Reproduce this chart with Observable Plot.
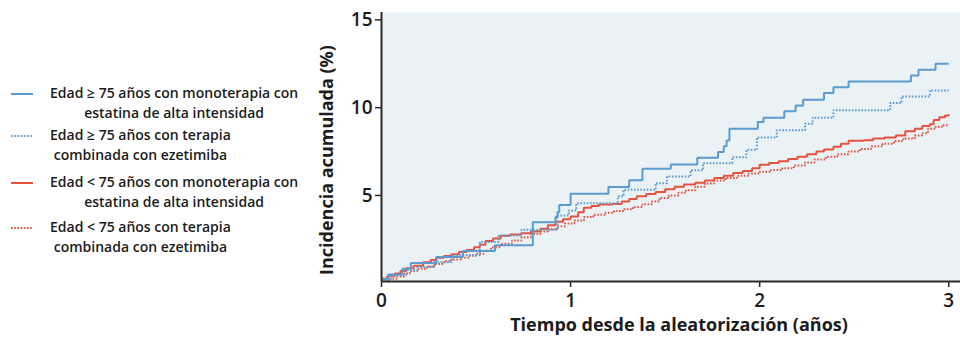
<!DOCTYPE html>
<html><head><meta charset="utf-8">
<script src="https://cdn.jsdelivr.net/npm/d3@7"></script>
<script src="https://cdn.jsdelivr.net/npm/@observablehq/plot@0.6"></script>
<style>
body{margin:0;background:#fff;font-family:'Open Sans',sans-serif;}
#wrap{position:relative;width:960px;height:338px;overflow:hidden;}
#chart{position:absolute;left:0;top:0;}
.leg{position:absolute;left:50px;text-align:center;font-size:14px;font-weight:600;line-height:20px;color:#1c1c1c;white-space:nowrap;}
.sw{position:absolute;left:11px;width:22px;height:6px;}
</style></head><body>
<div id="wrap"><div id="chart"></div><div id="legend"></div></div>
<script>
// ---- data ----
const seriesNames = [
  "Edad ≥ 75 años con monoterapia con estatina de alta intensidad",
  "Edad ≥ 75 años con terapia combinada con ezetimiba",
  "Edad < 75 años con monoterapia con estatina de alta intensidad",
  "Edad < 75 años con terapia combinada con ezetimiba"
];
const legendLines = [
  ["Edad ≥ 75 años con monoterapia con", "estatina de alta intensidad"],
  ["Edad ≥ 75 años con terapia", "combinada con ezetimiba"],
  ["Edad < 75 años con monoterapia con", "estatina de alta intensidad"],
  ["Edad < 75 años con terapia", "combinada con ezetimiba"]
];
// [years, cumulative incidence %]
const oldMono = [[0,0.26],[0.035,0.5],[0.11,0.83],[0.155,1.15],[0.29,1.5],[0.43,1.83],[0.60,2.16],[0.80,3.48],[0.92,3.77],[0.93,4.05],[0.94,4.45],[1.0,5.1],[1.20,5.48],[1.31,5.86],[1.38,6.52],[1.53,6.77],[1.67,7.15],[1.78,7.47],[1.81,7.8],[1.825,8.13],[1.84,8.8],[1.99,9.18],[2.02,9.43],[2.13,9.8],[2.19,10.12],[2.23,10.45],[2.34,10.83],[2.39,11.17],[2.47,11.49],[2.80,11.83],[2.84,12.16],[2.93,12.5],[3.0,12.5]];
const oldCombo = [[0,0.2],[0.05,0.45],[0.13,0.75],[0.19,0.92],[0.28,1.2],[0.37,1.59],[0.52,2.35],[0.62,2.72],[0.74,3.05],[0.93,3.86],[0.99,4.15],[1.03,4.55],[1.25,4.95],[1.28,5.32],[1.45,5.7],[1.51,6.08],[1.635,6.43],[1.70,6.84],[1.855,7.18],[1.93,7.6],[1.985,8.3],[2.09,8.72],[2.24,9.08],[2.28,9.43],[2.39,9.86],[2.69,10.26],[2.75,10.64],[2.90,10.98],[3.0,10.98]];
const youngMono = [[0,0.26],[0.03,0.4],[0.07,0.55],[0.10,0.7],[0.13,0.85],[0.17,1.0],[0.22,1.2],[0.26,1.32],[0.29,1.45],[0.33,1.55],[0.37,1.65],[0.41,1.78],[0.45,1.9],[0.49,2.05],[0.52,2.2],[0.55,2.4],[0.59,2.55],[0.63,2.7],[0.68,2.78],[0.74,2.85],[0.79,2.95],[0.84,3.1],[0.88,3.3],[0.92,3.5],[0.96,3.65],[1.0,3.8],[1.04,4.05],[1.07,4.3],[1.11,4.4],[1.15,4.48],[1.22,4.52],[1.27,4.65],[1.31,4.8],[1.35,4.95],[1.40,5.08],[1.45,5.2],[1.50,5.35],[1.55,5.5],[1.60,5.62],[1.66,5.72],[1.71,5.85],[1.76,6.0],[1.81,6.12],[1.86,6.28],[1.91,6.4],[1.96,6.55],[2.0,6.75],[2.05,6.85],[2.10,6.95],[2.15,7.08],[2.20,7.2],[2.25,7.35],[2.30,7.5],[2.34,7.62],[2.39,7.78],[2.43,7.95],[2.47,8.12],[2.55,8.15],[2.60,8.25],[2.66,8.3],[2.72,8.42],[2.77,8.65],[2.82,8.8],[2.86,8.95],[2.90,9.05],[2.92,9.3],[2.95,9.45],[2.98,9.55],[3.0,9.62]];
const youngCombo = [[0,0.15],[0.04,0.25],[0.08,0.38],[0.12,0.55],[0.15,0.7],[0.19,0.82],[0.24,0.96],[0.28,1.1],[0.33,1.25],[0.37,1.35],[0.42,1.45],[0.46,1.56],[0.50,1.68],[0.54,1.85],[0.58,2.05],[0.63,2.25],[0.69,2.44],[0.74,2.62],[0.79,2.8],[0.84,2.95],[0.88,3.08],[0.93,3.25],[0.97,3.4],[1.02,3.58],[1.07,3.77],[1.12,3.9],[1.18,4.02],[1.23,4.12],[1.28,4.22],[1.33,4.35],[1.38,4.5],[1.43,4.65],[1.47,4.85],[1.52,5.0],[1.57,5.15],[1.61,5.3],[1.66,5.5],[1.71,5.68],[1.76,5.85],[1.82,6.0],[1.88,6.12],[1.94,6.25],[2.0,6.35],[2.06,6.45],[2.12,6.55],[2.18,6.7],[2.24,6.88],[2.29,7.05],[2.35,7.2],[2.41,7.35],[2.47,7.5],[2.53,7.65],[2.59,7.8],[2.65,7.95],[2.71,8.1],[2.76,8.25],[2.82,8.42],[2.86,8.55],[2.89,8.8],[2.93,8.92],[2.97,9.0],[3.0,9.04]];
const xTicks = [0, 1, 2, 3];
const yTicks = [5, 10, 15];
const xLabel = "Tiempo desde la aleatorización (años)";
const yLabel = "Incidencia acumulada (%)";

// ---- styles ----
const BLUE = "#5b9bd0", RED = "#e5533f";
const styles = [
  {color: BLUE, dash: null},
  {color: BLUE, dash: "1.6,1.6"},
  {color: RED, dash: null},
  {color: RED, dash: "1.6,1.6"}
];
const allSeries = [oldMono, oldCombo, youngMono, youngCombo];
const yDomain = [0.1, 15.42];

const lineMarks = allSeries.map((s, i) =>
  Plot.line(s.map(([t, v]) => ({t, v, g: seriesNames[i]})), {
    x: "t", y: "v", curve: "step-after",
    stroke: styles[i].color, strokeWidth: 2,
    strokeDasharray: styles[i].dash || undefined,
    strokeLinejoin: "miter", strokeLinecap: "butt"
  })
);

const chart = Plot.plot({
  width: 960, height: 338,
  marginLeft: 381, marginRight: 0, marginTop: 12, marginBottom: 57,
  style: {fontFamily: "'Open Sans', sans-serif", fontSize: "19px", color: "#222", background: "transparent", overflow: "visible"},
  x: {domain: [0, 3.062]},
  y: {domain: yDomain},
  marks: [
    Plot.frame({fill: "#eaf2f6", stroke: "none"}),
    ...[lineMarks[3], lineMarks[2], lineMarks[1], lineMarks[0]],
    Plot.ruleX([0], {stroke: "#2a2a2a", strokeWidth: 2}),
    Plot.ruleY([yDomain[0]], {stroke: "#2a2a2a", strokeWidth: 2}),
    Plot.axisX({ticks: xTicks, tickSize: 6, tickPadding: 6, tickFormat: d => String(d), label: null, fontSize: 19, fontWeight: 600, fill: "#1c1c1c", stroke: "#2a2a2a", strokeWidth: 1.5}),
    Plot.axisY({ticks: yTicks, tickSize: 6, tickPadding: 3, label: null, fontSize: 19, fontWeight: 600, fill: "#1c1c1c", stroke: "#2a2a2a", strokeWidth: 1.5}),
    Plot.text([xLabel], {text: d => d, frameAnchor: "bottom", dx: 8, dy: 44, lineAnchor: "middle", textAnchor: "middle", fontSize: 18, fontWeight: "bold", fill: "#1c1c1c"}),
    Plot.text([yLabel], {text: d => d, frameAnchor: "left", rotate: -90, dx: -54, dy: 13, lineAnchor: "middle", textAnchor: "middle", fontSize: 18, fontWeight: "bold", fill: "#1c1c1c"})
  ]
});
document.getElementById("chart").appendChild(chart);

// ---- legend ----
const legendTops = [83, 125, 172, 217];
const legend = document.getElementById("legend");
legendLines.forEach((lines, i) => {
  const sw = document.createElementNS("http://www.w3.org/2000/svg", "svg");
  sw.setAttribute("class", "sw");
  sw.setAttribute("width", 22); sw.setAttribute("height", 6);
  sw.style.top = (legendTops[i] + 11 - 3) + "px";
  const ln = document.createElementNS("http://www.w3.org/2000/svg", "line");
  ln.setAttribute("x1", 0); ln.setAttribute("x2", 22);
  ln.setAttribute("y1", 3); ln.setAttribute("y2", 3);
  ln.setAttribute("stroke", styles[i].color);
  ln.setAttribute("stroke-width", 2);
  if (styles[i].dash) ln.setAttribute("stroke-dasharray", styles[i].dash);
  sw.appendChild(ln);
  legend.appendChild(sw);
  const d = document.createElement("div");
  d.className = "leg";
  d.style.top = legendTops[i] + "px";
  d.innerHTML = lines.map(l => l.replace(/</g, "&lt;")).join("<br>");
  legend.appendChild(d);
});
</script>
</body></html>
